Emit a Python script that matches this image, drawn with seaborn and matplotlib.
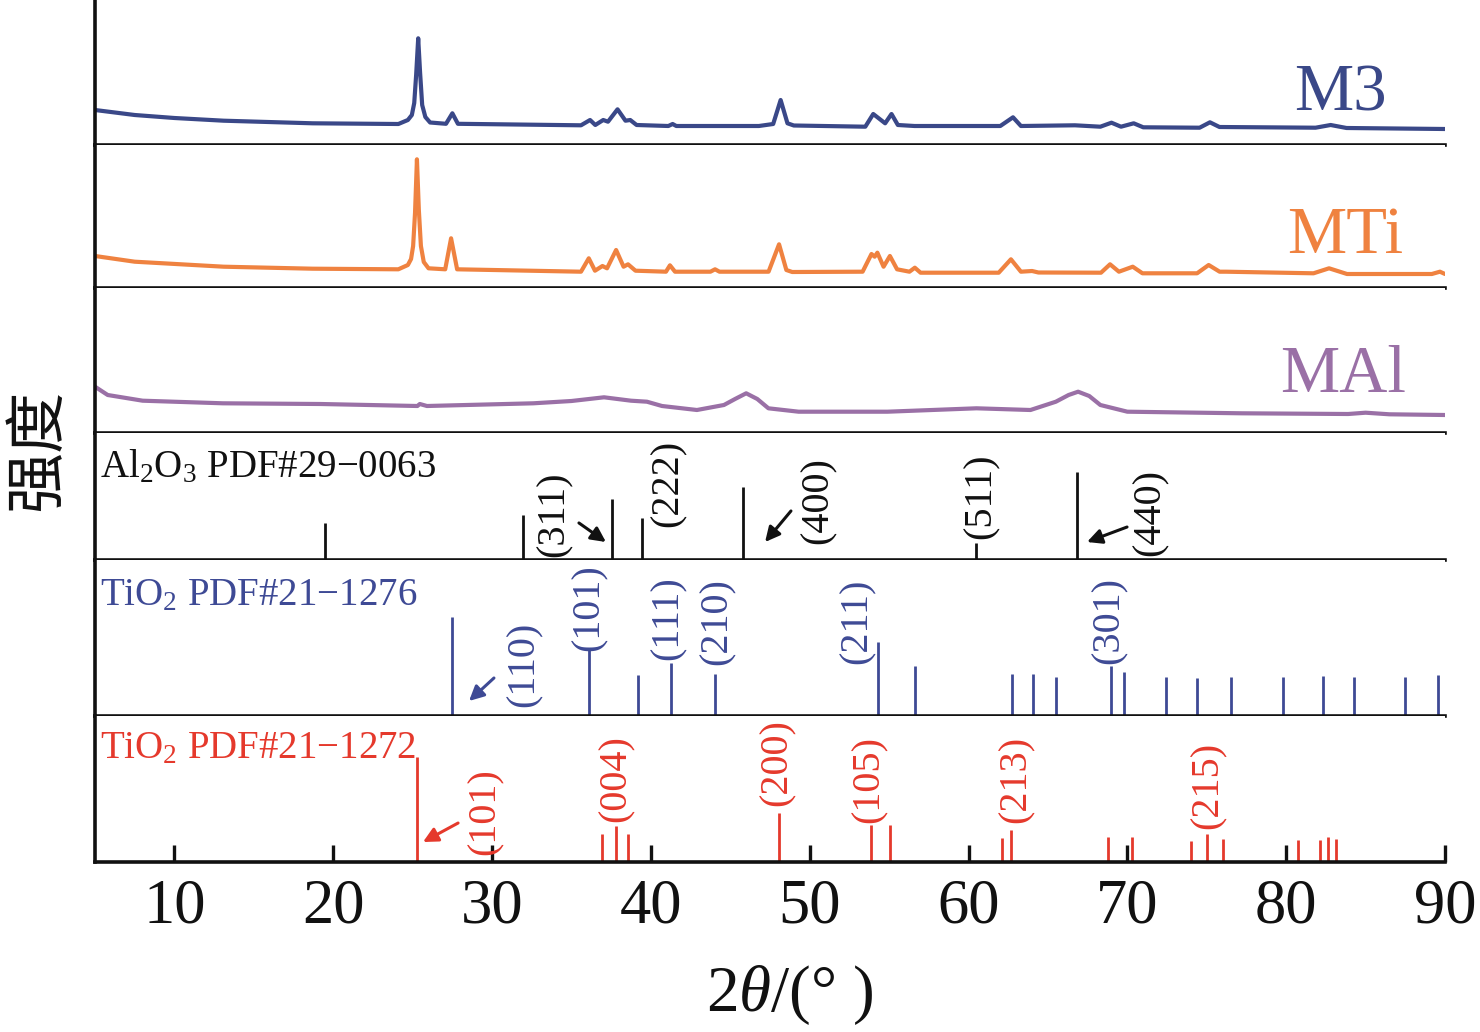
import matplotlib
matplotlib.use("Agg")
import matplotlib.pyplot as plt
import seaborn as sns
import pandas as pd

# ---------------- data ----------------
m3_2theta = [5.0, 6.0, 7.5, 10.0, 13.1, 18.7, 24.1, 24.7, 24.95, 25.1, 25.22, 25.35, 25.47, 25.6,
             25.8, 26.1, 27.1, 27.5, 27.85, 35.6, 36.17, 36.5, 37.0, 37.3, 37.9, 38.4, 38.7, 39.1,
             41.1, 41.37, 41.6, 46.8, 47.7, 48.17, 48.6, 49.0, 53.5, 54.0, 54.75, 55.15, 55.55,
             56.6, 62.0, 62.8, 63.3, 66.7, 68.3, 69.0, 69.6, 70.4, 71.0, 74.55, 75.2, 75.8, 81.85,
             82.8, 83.8, 90.0]
m3_int = [350, 330, 300, 270, 243, 217, 210, 250, 300, 420, 700, 1067, 720, 400,
          280, 225, 212, 317, 212, 197, 250, 200, 250, 233, 357, 243, 250, 200,
          190, 210, 190, 190, 210, 450, 217, 195, 183, 310, 217, 310, 200,
          190, 190, 277, 190, 197, 183, 223, 183, 217, 177, 173, 227, 180, 173,
          200, 170, 160]

mti_2theta = [5.0, 7.5, 13.1, 18.7, 24.1, 24.7, 24.9, 25.03, 25.15, 25.27, 25.39, 25.52, 25.7,
              26.0, 27.05, 27.42, 27.8, 35.6, 36.09, 36.48, 36.95, 37.24, 37.81, 38.28, 38.56,
              39.03, 40.95, 41.2, 41.52, 43.75, 44.04, 44.32, 47.41, 48.07, 48.53, 48.9, 53.33,
              53.89, 54.09, 54.26, 54.65, 55.05, 55.5, 56.28, 56.62, 56.98, 61.9, 62.67, 63.3,
              64.0, 64.4, 68.34, 68.91, 69.47, 70.34, 70.95, 74.39, 75.12, 75.81, 76.21, 81.72,
              82.7, 83.83, 89.17, 89.68, 90.0]
mti_int = [320, 263, 213, 193, 187, 230, 290, 420, 750, 1287, 780, 420, 260,
           197, 187, 497, 187, 163, 297, 173, 220, 197, 380, 213, 237,
           173, 163, 227, 163, 163, 187, 163, 163, 437, 180, 160, 163,
           340, 313, 353, 213, 320, 187, 163, 203, 153, 153, 287, 163,
           170, 155, 153, 237, 163, 213, 147, 147, 230, 163, 163, 147,
           197, 140, 140, 163, 140]

mal_2theta = [5.0, 5.8, 8.0, 13.05, 19.2, 25.3, 25.45, 25.9, 32.6, 35.0, 37.05, 38.75, 39.75,
              40.7, 42.9, 44.6, 45.3, 46.0, 46.7, 47.4, 49.3, 54.9, 60.5, 63.9, 65.5, 66.3,
              66.9, 67.6, 68.3, 70.0, 77.2, 83.9, 85.0, 86.5, 90.0]
mal_int = [463, 380, 323, 297, 290, 270, 290, 270, 297, 320, 357, 323, 313,
           270, 230, 280, 340, 397, 340, 247, 213, 213, 247, 230, 313, 380,
           413, 370, 280, 213, 197, 190, 203, 187, 180]

al2o3_pos = [19.5, 31.95, 37.55, 39.45, 45.8, 60.5, 66.8]
al2o3_int = [42, 51, 69, 48, 83, 19, 100]
al2o3_hkl = ["(311)", "(222)", "(400)", "(511)", "(440)"]

rutile_pos = [27.45, 36.09, 39.2, 41.25, 44.05, 54.32, 56.64, 62.75, 64.04, 65.5, 69.0, 69.79,
              72.41, 74.41, 76.5, 79.8, 82.3, 84.25, 87.45, 89.55]
rutile_int = [100, 67, 42, 54, 43, 75, 51, 43, 43, 39, 51, 45, 39, 38, 40, 39, 41, 40, 39, 42]
rutile_hkl = ["(110)", "(101)", "(111)", "(210)", "(211)", "(301)"]

anatase_pos = [25.28, 36.95, 37.8, 38.58, 48.05, 53.89, 55.06, 62.12, 62.69, 68.76, 70.31,
               74.03, 75.03, 76.02, 80.73, 82.14, 82.66, 83.15]
anatase_int = [100, 27, 34, 27, 47, 35, 35, 23, 30, 24, 24, 20, 27, 22, 21, 21, 24, 22]
anatase_hkl = ["(101)", "(004)", "(200)", "(105)", "(213)", "(215)"]

x_ticks = [10, 20, 30, 40, 50, 60, 70, 80, 90]

# ---------------- style ----------------
sns.set_theme(style="white")
plt.rcParams['font.family'] = ['Liberation Serif', 'DejaVu Sans']
plt.rcParams['mathtext.fontset'] = 'custom'
plt.rcParams['mathtext.rm'] = 'Liberation Serif'
plt.rcParams['mathtext.it'] = 'Liberation Serif:italic'

C_M3 = "#3a4888"
C_MTI = "#ef8240"
C_MAL = "#9a70a6"
C_RUT = "#3e4a95"
C_ANA = "#e5392c"
C_BLK = "#111111"

fig = plt.figure(figsize=(14.8, 10.32), dpi=100)
gs = fig.add_gridspec(6, 1, height_ratios=[145, 143, 145, 127, 156, 146], hspace=0,
                      left=95/1480, right=1445/1480, top=1.0, bottom=1-862/1032)
axes = [fig.add_subplot(gs[i]) for i in range(6)]

for ax in axes:
    ax.set_xlim(5, 90)
    for s in ["top", "right"]:
        ax.spines[s].set_visible(False)
    for s in ["left", "bottom"]:
        ax.spines[s].set_visible(True)
        ax.spines[s].set_linewidth(2.6)
        ax.spines[s].set_color(C_BLK)
    ax.tick_params(left=False, bottom=False, labelleft=False, labelbottom=False)
    ax.set_facecolor("white")
    ax.grid(False)

# curves
curves = [
    (axes[0], m3_2theta, m3_int, C_M3, "M3", 1450, (0.957, 0.241)),
    (axes[1], mti_2theta, mti_int, C_MTI, "MTi", 1430, (0.969, 0.245)),
    (axes[2], mal_2theta, mal_int, C_MAL, "MAl", 1450, (0.971, 0.283)),
]
for ax, xs, ys, col, name, top, (tx, ty) in curves:
    df = pd.DataFrame({"2theta": xs, "I": ys})
    line_ax = sns.lineplot(data=df, x="2theta", y="I", ax=ax, color=col, linewidth=3.0,
                           estimator=None, sort=False)
    for ln in ax.get_lines():
        ln.set_solid_joinstyle("round")
        ln.set_solid_capstyle("round")
    ax.set_ylim(0, top)
    ax.set_xlabel("")
    ax.set_ylabel("")
    ax.text(tx, ty, name, transform=ax.transAxes, ha="right", va="baseline",
            fontsize=48, color=col)

# reference sticks
ax = axes[3]
ax.vlines(al2o3_pos, 0, al2o3_int, colors=C_BLK, linewidth=2.0)
ax.set_ylim(0, 144)
ax.text(0.004, 0.654, "Al$_2$O$_3$ PDF#29\u22120063", transform=ax.transAxes,
        ha="left", va="baseline", fontsize=28, color=C_BLK)
al_lab_xy = [(33.9, 52.2), (41.08, 87.3), (50.52, 66.9), (60.79, 72.6), (71.43, 54.4)]
for lab, (lx, ly) in zip(al2o3_hkl, al_lab_xy):
    ax.text(lx, ly, lab, rotation=90, ha="center", va="center", fontsize=29, color=C_BLK)
for (tail, tip) in [((35.47, 42), (37.17, 20.4)), ((48.82, 55.6), (47.19, 20.4)),
                    ((69.98, 37.4), (67.46, 20.4))]:
    ax.annotate("", xy=tip, xytext=tail,
                arrowprops=dict(arrowstyle="-|>", color=C_BLK, lw=2.2, mutation_scale=22,
                                shrinkA=0, shrinkB=0))

ax = axes[4]
ax.vlines(rutile_pos, 0, rutile_int, colors=C_RUT, linewidth=2.0)
ax.set_ylim(0, 158)
ax.text(0.004, 0.712, "TiO$_2$ PDF#21\u22121276", transform=ax.transAxes,
        ha="left", va="baseline", fontsize=28, color=C_RUT)
ru_lab_xy = [(32.01, 52.7), (36.1, 109.4), (41.08, 99.3), (44.16, 95.2), (52.98, 96.2),
             (68.85, 97.2)]
for lab, (lx, ly) in zip(rutile_hkl, ru_lab_xy):
    ax.text(lx, ly, lab, rotation=90, ha="center", va="center", fontsize=29, color=C_RUT)
ax.annotate("", xy=(28.55, 15.2), xytext=(30.12, 38.5),
            arrowprops=dict(arrowstyle="-|>", color=C_RUT, lw=2.2, mutation_scale=22,
                            shrinkA=0, shrinkB=0))

ax = axes[5]
ax.vlines(anatase_pos, 0, anatase_int, colors=C_ANA, linewidth=2.0)
ax.set_ylim(0, 139)
ax.text(0.004, 0.712, "TiO$_2$ PDF#21\u22121272", transform=ax.transAxes,
        ha="left", va="baseline", fontsize=28, color=C_ANA)
an_lab_xy = [(29.56, 47.6), (37.8, 79.0), (47.94, 94.3), (53.73, 79.0), (62.99, 79.0),
             (75.08, 73.3)]
for lab, (lx, ly) in zip(anatase_hkl, an_lab_xy):
    ax.text(lx, ly, lab, rotation=90, ha="center", va="center", fontsize=29, color=C_ANA)
ax.annotate("", xy=(25.65, 19.0), xytext=(27.86, 37.1),
            arrowprops=dict(arrowstyle="-|>", color=C_ANA, lw=2.2, mutation_scale=22,
                            shrinkA=0, shrinkB=0))

# bottom axis ticks
ax.set_xticks(x_ticks)
ax.set_xticklabels([str(t) for t in x_ticks])
ax.tick_params(bottom=True, labelbottom=True, direction="in", length=12, width=2.4,
               color=C_BLK, labelsize=45, pad=12, labelcolor=C_BLK)

fig.text(790/1480, 1-995/1032, "2$\\it{\\theta}$/(\u00b0 )", ha="center", va="center",
         fontsize=47, color=C_BLK)
fig.text(38/1480, 1-450/1032, "强度", rotation=90, ha="center", va="center",
         fontsize=44, color=C_BLK, family=["Noto Sans CJK SC", "DejaVu Sans"])

fig.savefig("out.png", dpi=100, facecolor="white")
